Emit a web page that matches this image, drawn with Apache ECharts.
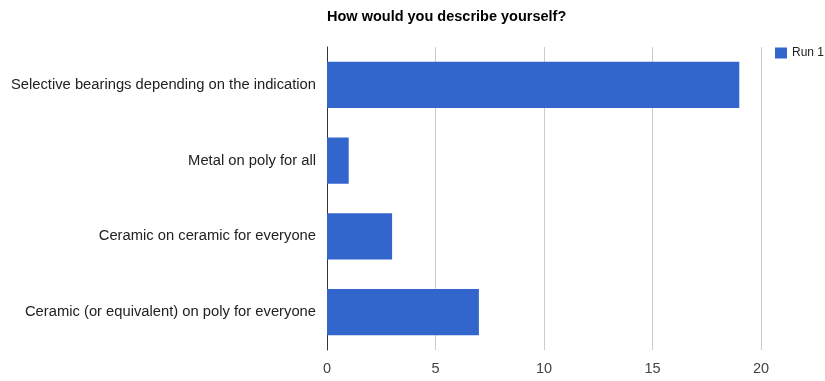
<!DOCTYPE html>
<html>
<head>
<meta charset="utf-8">
<script src="https://cdn.jsdelivr.net/npm/echarts@6/dist/echarts.min.js"></script>
<style>
  html, body { margin: 0; padding: 0; background: #fff; }
  #chart { width: 825px; height: 381px; }
</style>
</head>
<body>
<div id="chart"></div>
<script>
// Answer options, listed bottom to top as the category axis draws them
const categories = [
  'Ceramic (or equivalent) on poly for everyone',
  'Ceramic on ceramic for everyone',
  'Metal on poly for all',
  'Selective bearings depending on the indication'
];
const run1 = [7, 3, 1, 19];
const seriesName = 'Run 1';
const titleText = 'How would you describe yourself?';

const chart = echarts.init(document.getElementById('chart'));
chart.setOption({
  animation: false,
  textStyle: { fontFamily: 'Liberation Sans, Arial, sans-serif' },
  title: {
    text: titleText,
    left: 322,
    top: 4,
    textStyle: { fontSize: 14.5, fontWeight: 'bold', color: '#000' }
  },
  legend: {
    data: [seriesName],
    left: 770,
    top: 42,
    itemWidth: 12,
    itemHeight: 11,
    itemGap: 5,
    icon: 'rect',
    textStyle: { fontSize: 12, color: '#222' }
  },
  grid: { left: 327, right: 64, top: 47, bottom: 31 },
  xAxis: {
    type: 'value',
    min: 0,
    max: 20,
    interval: 5,
    axisLine: { show: false },
    axisTick: { show: false },
    axisLabel: { fontSize: 14.5, color: '#444', margin: 11 },
    splitLine: { lineStyle: { color: '#ccc', width: 1 } }
  },
  yAxis: {
    type: 'category',
    data: categories,
    axisLine: { show: true, lineStyle: { color: '#333', width: 1 } },
    axisTick: { show: false },
    axisLabel: { fontSize: 14.75, color: '#222', margin: 11 }
  },
  series: [{
    name: seriesName,
    type: 'bar',
    data: run1,
    barCategoryGap: '39%',
    itemStyle: { color: '#3366CC' }
  }]
});
</script>
</body>
</html>
